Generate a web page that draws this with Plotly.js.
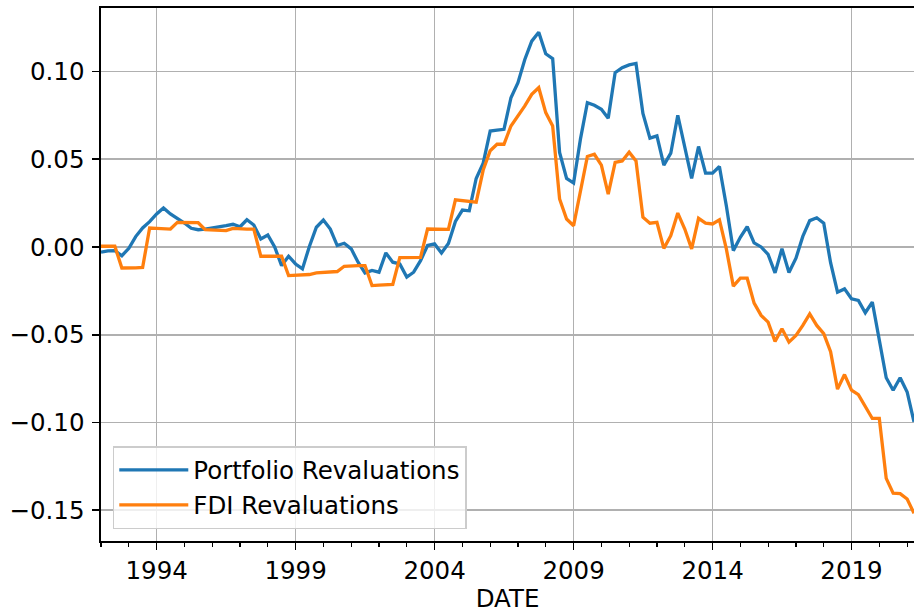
<!DOCTYPE html>
<html>
<head>
<meta charset="utf-8">
<script src="https://cdn.plot.ly/plotly-3.0.1.min.js"></script>
<style>html,body{margin:0;padding:0;background:#fff;}#chart{width:914px;height:613px;}</style>
</head>
<body>
<div id="chart"></div>
<script>
// Quarterly observations, first quarter 1992 Q1, last 2021 Q2
const firstYear = 1992;
const seriesNames = ['Portfolio Revaluations', 'FDI Revaluations'];

const portfolio = [
  -0.0030, -0.0022, -0.0021, -0.0050, -0.0008, 0.0059, 0.0108, 0.0144, 0.0188, 0.0222,
   0.0188, 0.0163, 0.0136, 0.0106, 0.0098, 0.0102, 0.0108, 0.0112, 0.0121, 0.0129,
   0.0115, 0.0155, 0.0125, 0.0045, 0.0068, 0.0000, -0.0106, -0.0053, -0.0097, -0.0125,
   0.0003, 0.0112, 0.0153, 0.0102, 0.0008, 0.0021, -0.0011, -0.0087, -0.0148, -0.0134,
  -0.0144, -0.0034, -0.0087, -0.0097, -0.0172, -0.0144, -0.0078, 0.0008, 0.0017, -0.0034,
   0.0020, 0.0145, 0.0210, 0.0206, 0.0390, 0.0477, 0.0660, 0.0665, 0.0670, 0.0850,
   0.0936, 0.1068, 0.1172, 0.1223, 0.1100, 0.1072, 0.0538, 0.0390, 0.0364, 0.0614,
   0.0822, 0.0807, 0.0784, 0.0733, 0.0993, 0.1021, 0.1037, 0.1045, 0.0760, 0.0620,
   0.0633, 0.0466, 0.0534, 0.0750, 0.0566, 0.0390, 0.0572, 0.0420, 0.0420, 0.0458,
   0.0235, -0.0021, 0.0055, 0.0115, 0.0023, 0.0000, -0.0043, -0.0148, -0.0010, -0.0146,
  -0.0064, 0.0060, 0.0150, 0.0166, 0.0135, -0.0090, -0.0258, -0.0239, -0.0295, -0.0305,
  -0.0375, -0.0314, -0.0530, -0.0745, -0.0816, -0.0745, -0.0826, -0.0996
];

const fdi = [
   0.0004, 0.0004, 0.0004, -0.0120, -0.0121, -0.0119, -0.0117, 0.0108, 0.0106, 0.0104,
   0.0102, 0.0140, 0.0140, 0.0138, 0.0138, 0.0098, 0.0095, 0.0094, 0.0093, 0.0106,
   0.0106, 0.0102, 0.0101, -0.0053, -0.0053, -0.0053, -0.0053, -0.0163, -0.0162, -0.0159,
  -0.0157, -0.0148, -0.0144, -0.0142, -0.0140, -0.0110, -0.0106, -0.0106, -0.0106, -0.0220,
  -0.0218, -0.0218, -0.0214, -0.0061, -0.0061, -0.0061, -0.0059, 0.0102, 0.0102, 0.0101,
   0.0100, 0.0268, 0.0263, 0.0259, 0.0255, 0.0438, 0.0548, 0.0585, 0.0585, 0.0689,
   0.0746, 0.0803, 0.0869, 0.0907, 0.0765, 0.0689, 0.0273, 0.0159, 0.0121, 0.0311,
   0.0515, 0.0528, 0.0466, 0.0301, 0.0481, 0.0490, 0.0540, 0.0490, 0.0169, 0.0135,
   0.0140, -0.0008, 0.0064, 0.0193, 0.0102, -0.0011, 0.0163, 0.0136, 0.0131, 0.0155,
  -0.0011, -0.0223, -0.0178, -0.0178, -0.0320, -0.0390, -0.0428, -0.0538, -0.0466, -0.0542,
  -0.0504, -0.0447, -0.0381, -0.0447, -0.0494, -0.0597, -0.0810, -0.0727, -0.0816, -0.0841,
  -0.0911, -0.0977, -0.0977, -0.1318, -0.1403, -0.1405, -0.1436, -0.1517
];

const xTickYears = [1994, 1999, 2004, 2009, 2014, 2019];
const yTickVals = [-0.15, -0.10, -0.05, 0.00, 0.05, 0.10];

const dates = portfolio.map((_, i) => {
  const y = firstYear + Math.floor(i / 4);
  const m = 1 + 3 * (i % 4);
  return y + '-' + String(m).padStart(2, '0') + '-01';
});
// yearly minor ticks: every January 1st in the data span
const yearStarts = dates.filter(d => d.slice(5, 7) === '01');
const majorTickVals = xTickYears.map(y => y + '-01-01');

const font = {family: 'DejaVu Sans, sans-serif', size: 24.5, color: '#000'};

const traces = [
  {x: dates, y: portfolio, name: seriesNames[0], type: 'scatter', mode: 'lines',
   line: {color: '#1f77b4', width: 3.3}},
  {x: dates, y: fdi, name: seriesNames[1], type: 'scatter', mode: 'lines',
   line: {color: '#ff7f0e', width: 3.3}}
];

const layout = {
  width: 914, height: 613,
  margin: {l: 101, r: 0, t: 8, b: 72, pad: 0},
  paper_bgcolor: '#fff', plot_bgcolor: '#fff',
  font: font,
  showlegend: true,
  legend: {
    x: 0.0145, y: 0.0225, xanchor: 'left', yanchor: 'bottom',
    bgcolor: 'rgba(255,255,255,0.8)', bordercolor: '#cccccc', borderwidth: 1.5,
    font: font, itemwidth: 69
  },
  xaxis: {
    type: 'date',
    range: [dates[0], dates[dates.length - 1]],
    tickmode: 'array', tickvals: majorTickVals, ticktext: xTickYears.map(String),
    ticks: 'outside', ticklen: 7, tickwidth: 1.6, tickcolor: '#000',
    showline: true, linecolor: '#000', linewidth: 1.6, mirror: true,
    showgrid: true, gridcolor: '#b0b0b0', gridwidth: 1.6,
    zeroline: false,
    minor: {tickmode: 'array', tickvals: yearStarts, ticks: 'outside', ticklen: 4, tickwidth: 1.2, tickcolor: '#000', showgrid: false},
    title: {text: 'DATE', font: font, standoff: 10},
    tickfont: font
  },
  yaxis: {
    range: [-0.1675, 0.1361],
    tickmode: 'array', tickvals: yTickVals, tickformat: '.2f',
    ticks: 'outside', ticklen: 7, tickwidth: 1.6, tickcolor: '#000',
    ticklabelstandoff: 3,
    showline: true, linecolor: '#000', linewidth: 1.6,
    showgrid: true, gridcolor: '#b0b0b0', gridwidth: 1.6,
    zeroline: false,
    tickfont: font
  }
};

Plotly.newPlot('chart', traces, layout, {displayModeBar: false, staticPlot: true});
</script>
</body>
</html>
